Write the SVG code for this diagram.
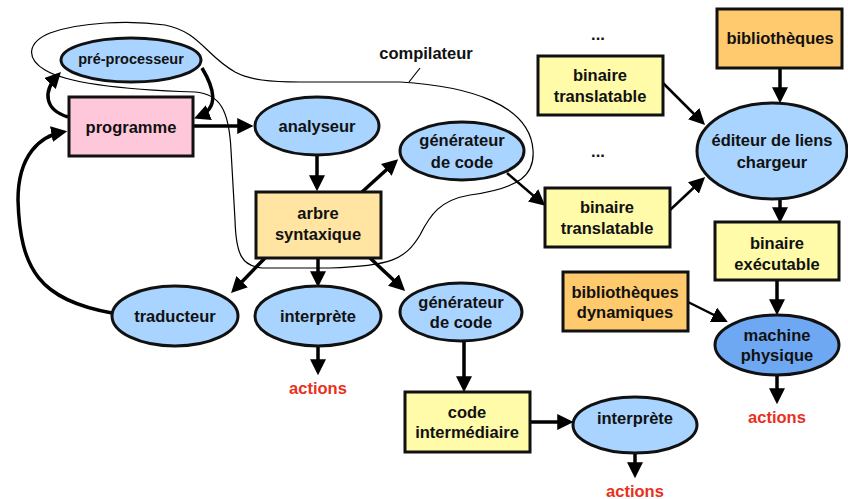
<svg xmlns="http://www.w3.org/2000/svg" width="848" height="499" viewBox="0 0 848 499">
<style>
text{font-family:"Liberation Sans",Arial,sans-serif;font-weight:bold;font-size:16.5px;text-anchor:middle;fill:#111}
.node{stroke:#111;stroke-width:3}
.ell{fill:#A8D4FF}
.dark{fill:#6EA8F2}
.yel{fill:#FFFBA8}
.arb{fill:#FFE4A2}
.lib{fill:#FFC96E}
.pink{fill:#FFC8DA}
.act{fill:#E8301C}
.a{fill:none;stroke:#000;stroke-width:3.5;marker-end:url(#ah)}
.t{fill:none;stroke:#000;stroke-width:2.5;marker-end:url(#ah)}
.c{fill:none;stroke:#000;stroke-width:1.2}
</style>
<defs>
<marker id="ah" markerUnits="userSpaceOnUse" markerWidth="16" markerHeight="16" viewBox="0 0 15 15" refX="11" refY="7.5" orient="auto">
<path d="M0,0 L15,7.5 L0,15 z" fill="#000"/>
</marker>
</defs>
<g id="compilateur">
<path class="c" d="M300,82 L400,82 C470,86 530,105 533,150 C535,175 520,188 470,195 C440,200 430,215 420,235 C405,260 390,266 330,268 L262,268 C242,266 236,255 235,220 L231,150 C229,110 220,94 195,92 C130,90 70,85 45,70 C25,58 28,42 50,33 C80,22 130,20 165,25 C200,32 205,55 235,72 C250,80 270,82 300,82 Z"/>
<path class="c" d="M409,82 L420,68"/>
<text x="426" y="59">compilateur</text>
</g>
<g id="connectors">
<path class="a" d="M193,126 L249,126"/>
<path class="a" d="M68,117 C45,110 42,92 58,75"/>
<path class="a" d="M202,68 C214,88 220,108 198,117"/>
<path class="a" d="M112,313 C40,300 20,270 18,200 C18,155 40,136 63,132"/>
<path class="a" d="M317,156 L317,187"/>
<path class="a" d="M362,192 L395,162"/>
<path class="a" d="M265,258 L234,290"/>
<path class="a" d="M318,258 L318,283"/>
<path class="a" d="M370,258 L402,288"/>
<path class="t" d="M507,173 L542,203"/>
<path class="t" d="M663,83 L702,122"/>
<path class="t" d="M670,210 L702,180"/>
<path class="a" d="M780,68 L780,99"/>
<path class="a" d="M780,199 L780,219"/>
<path class="a" d="M777,280 L777,311"/>
<path class="t" d="M688,302 L724,320"/>
<path class="a" d="M777,375 L777,400"/>
<path class="a" d="M464,342 L464,388"/>
<path class="a" d="M530,422 L569,422"/>
<path class="a" d="M635,453 L635,474"/>
<path class="a" d="M318,346 L318,371"/>
</g>
<g id="pre-processeur"><ellipse class="node ell" cx="131" cy="60" rx="70" ry="22"/><text x="131" y="64" style="font-size:14.5px">pré-processeur</text></g>
<g id="programme"><rect class="node pink" x="69" y="97" width="124" height="59"/><text x="131" y="133">programme</text></g>
<g id="analyseur"><ellipse class="node ell" cx="317" cy="126" rx="62" ry="29"/><text x="317" y="132">analyseur</text></g>
<g id="generateur1"><ellipse class="node ell" cx="462" cy="151" rx="62" ry="29"/><text x="462" y="146">générateur</text><text x="462" y="168">de code</text></g>
<g id="arbre"><rect class="node arb" x="256" y="192" width="125" height="66"/><text x="318" y="219">arbre</text><text x="318" y="240">syntaxique</text></g>
<g id="dots1"><text x="598" y="40">...</text></g>
<g id="dots2"><text x="598" y="157">...</text></g>
<g id="binaire1"><rect class="node yel" x="538" y="56" width="125" height="59"/><text x="600" y="81">binaire</text><text x="600" y="102">translatable</text></g>
<g id="binaire2"><rect class="node yel" x="545" y="188" width="125" height="59"/><text x="607" y="213">binaire</text><text x="607" y="234">translatable</text></g>
<g id="bibliotheques"><rect class="node lib" x="717" y="9" width="125" height="59"/><text x="780" y="44">bibliothèques</text></g>
<g id="editeur"><ellipse class="node ell" cx="772" cy="151" rx="75" ry="48"/><text x="772" y="146">éditeur de liens</text><text x="772" y="168">chargeur</text></g>
<g id="executable"><rect class="node yel" x="715" y="222" width="124" height="58"/><text x="777" y="249">binaire</text><text x="777" y="270">exécutable</text></g>
<g id="bibdyn"><rect class="node lib" x="563" y="272" width="125" height="59"/><text x="625" y="298">bibliothèques</text><text x="625" y="318">dynamiques</text></g>
<g id="machine"><ellipse class="node dark" cx="777" cy="345" rx="62" ry="30"/><text x="777" y="341">machine</text><text x="777" y="361">physique</text></g>
<g id="actions3"><text class="act" x="777" y="423">actions</text></g>
<g id="traducteur"><ellipse class="node ell" cx="175" cy="316" rx="63" ry="30"/><text x="175" y="322">traducteur</text></g>
<g id="interprete1"><ellipse class="node ell" cx="318" cy="316" rx="63" ry="30"/><text x="318" y="322">interprète</text></g>
<g id="actions1"><text class="act" x="318" y="394">actions</text></g>
<g id="generateur2"><ellipse class="node ell" cx="461" cy="312" rx="61" ry="29"/><text x="461" y="308">générateur</text><text x="461" y="328">de code</text></g>
<g id="codeinter"><rect class="node yel" x="405" y="392" width="125" height="60"/><text x="467" y="418">code</text><text x="467" y="438">intermédiaire</text></g>
<g id="interprete2"><ellipse class="node ell" cx="635" cy="425" rx="62" ry="28"/><text x="635" y="424">interprète</text></g>
<g id="actions2"><text class="act" x="635" y="497">actions</text></g>
</svg>
